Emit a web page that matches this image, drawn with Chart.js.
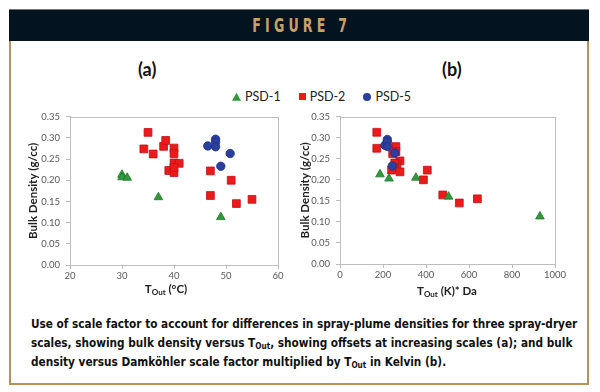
<!DOCTYPE html>
<html>
<head>
<meta charset="utf-8">
<script src="https://cdn.jsdelivr.net/npm/chart.js@4/dist/chart.umd.min.js"></script>
<style>
  html, body { margin: 0; padding: 0; background: #fff; }
  body { width: 600px; height: 392px; position: relative; overflow: hidden; font-family: Lato, "Open Sans", sans-serif; }
  #frame { position: absolute; left: 9px; top: 11px; width: 576px; height: 372px; border: 2px solid #b8905a; border-top: none; }
  #head { position: absolute; left: 9px; top: 9px; width: 580px; height: 31px; background: #03131f; border-top: 1px solid #777;
          text-align: center; line-height: 31px; }
  #head span { display: inline-block; color: #c9a166; font: bold 20px "DejaVu Sans Condensed", "DejaVu Sans", sans-serif;
               letter-spacing: 6px; transform: scaleX(0.7); margin-left: 6px; }
  .ptitle { position: absolute; top: 58px; font: bold 18px Lato, sans-serif; color: #111; }
  #legend { position: absolute; top: 89px; left: 232px; font: 12.5px Lato, sans-serif; color: #222; white-space: nowrap; }
  #legend span.item { display: inline-block; margin-right: 18px; }
  #legend i { display: inline-block; vertical-align: middle; margin-right: 4px; position: relative; top: -1px; }
  .wrap { position: absolute; }
  .xt { position: absolute; font: bold 11.5px Lato, sans-serif; color: #222; white-space: nowrap; transform: translateX(-50%); }
  .xt sub { font-size: 8px; vertical-align: -2px; }
  #cap { position: absolute; left: 31px; top: 314px; width: 610px; font: bold 13px "DejaVu Sans Condensed", sans-serif;
         line-height: 19px; color: #111; transform: scaleX(0.9); transform-origin: 0 0; }
  #cap sub { font-size: 9px; vertical-align: -2px; line-height: 0; }
</style>
</head>
<body>
<div id="frame"></div>
<div id="head"><span>FIGURE 7</span></div>
<div class="ptitle" style="left:138px">(a)</div>
<div class="ptitle" style="left:442px">(b)</div>
<div id="legend"></div>

<div class="wrap" style="left:10px;top:105px;width:280px;height:180px"><canvas id="chartA"></canvas></div>
<div class="wrap" style="left:290px;top:105px;width:290px;height:180px"><canvas id="chartB"></canvas></div>
<div class="xt" style="left:166px;top:282px">T<sub>Out</sub> (°C)</div>
<div class="xt" style="left:447px;top:284px">T<sub>Out</sub> (K)* Da</div>

<div id="cap">Use of scale factor to account for differences in spray-plume densities for three spray-dryer<br>scales, showing bulk density versus T<sub>Out</sub>, showing offsets at increasing scales (a); and bulk<br>density versus Damköhler scale factor multiplied by T<sub>Out</sub> in Kelvin (b).</div>

<script>
// series names / styles
const seriesNames = ['PSD-1', 'PSD-2', 'PSD-5'];
const seriesColors = ['#2e9a3a', '#ee1a1a', '#2b3f9e'];
const seriesBorders = ['#22772c', '#c01018', '#1e2f80'];
const seriesShapes = ['triangle', 'rect', 'circle'];
const seriesRadius = [5, 5.5, 4.2];

// (a) bulk density vs T_out (deg C)
const psd1A = [[30, 0.213], [30, 0.207], [31, 0.206], [37, 0.160], [49, 0.113]];
const psd2A = [[35, 0.313], [34.2, 0.274], [36, 0.262], [38, 0.280], [38.4, 0.294], [40, 0.276], [40, 0.263],
               [40, 0.241], [39, 0.223], [40, 0.218], [41, 0.240], [40, 0.230], [47, 0.222], [47, 0.164],
               [51, 0.200], [52, 0.145], [55, 0.155]];
const psd5A = [[46.5, 0.281], [48, 0.297], [48, 0.290], [48, 0.279], [50.8, 0.263], [49, 0.233]];

// (b) bulk density vs T_out(K) * Da
const psd1B = [[186, 0.213], [228, 0.203], [353, 0.205], [505, 0.160], [930, 0.113]];
const psd2B = [[171, 0.313], [171, 0.275], [260, 0.279], [260, 0.267], [245, 0.262], [279, 0.245], [265, 0.236],
               [255, 0.240], [250, 0.230], [240, 0.223], [279, 0.219], [406, 0.223], [388, 0.200],
               [478, 0.164], [555, 0.145], [639, 0.155]];
const psd5B = [[209, 0.282], [220, 0.296], [220, 0.290], [222, 0.279], [255, 0.264], [243, 0.233]];

// axes
const yMin = 0, yMax = 0.35, yStep = 0.05;
const xRangeA = [20, 60, 10];
const xRangeB = [0, 1000, 200];
const yTitle = 'Bulk Density (g/cc)';

// legend (html)
const legend = document.getElementById('legend');
seriesNames.forEach((n, i) => {
    const s = document.createElement('span');
    s.className = 'item';
    const m = document.createElement('i');
    if (seriesShapes[i] === 'triangle') {
        m.style.cssText = 'width:9px;height:8px;clip-path:polygon(50% 0,100% 100%,0 100%);background:' + seriesColors[i];
    } else if (seriesShapes[i] === 'rect') {
        m.style.cssText = 'width:7px;height:7px;background:' + seriesColors[i];
    } else {
        m.style.cssText = 'width:8px;height:8px;border-radius:50%;background:' + seriesColors[i];
    }
    s.appendChild(m);
    s.appendChild(document.createTextNode(n));
    legend.appendChild(s);
});

function toPts(arr) { return arr.map(p => ({x: p[0], y: p[1]})); }

// plot frame on all four sides (excel style)
const boxPlugin = {
    id: 'box',
    afterDatasetsDraw(chart) {
        const a = chart.chartArea, ctx = chart.ctx;
        ctx.save();
        ctx.strokeStyle = '#bdbdbd';
        ctx.lineWidth = 1;
        ctx.strokeRect(Math.round(a.left) + 0.5, Math.round(a.top) + 0.5, Math.round(a.right - a.left), Math.round(a.bottom - a.top));
        ctx.restore();
    }
};

function makeChart(id, sets, xr, pad, yw, xh) {
    const datasets = sets.map((d, i) => ({
        label: seriesNames[i],
        data: toPts(d),
        pointStyle: seriesShapes[i],
        pointRadius: seriesRadius[i],
        pointHoverRadius: seriesRadius[i],
        backgroundColor: seriesColors[i],
        borderColor: seriesBorders[i],
        borderWidth: 0.8,
        order: [2, 3, 1][i]
    }));
    return new Chart(document.getElementById(id), {
        type: 'scatter',
        data: { datasets },
        options: {
            responsive: true,
            maintainAspectRatio: false,
            animation: false,
            layout: { padding: pad },
            plugins: { legend: { display: false }, tooltip: { enabled: false } },
            scales: {
                x: {
                    type: 'linear', min: xr[0], max: xr[1],
                    ticks: { stepSize: xr[2], color: '#595959', font: { family: 'Lato', size: 9.5 }, padding: 1, maxRotation: 0,
                             callback: v => String(v) },
                    grid: { drawOnChartArea: false, tickLength: 4, color: '#bdbdbd' },
                    border: { color: '#bdbdbd' },
                    afterFit(s) { s.height = xh; }
                },
                y: {
                    min: yMin, max: yMax,
                    ticks: { stepSize: yStep, color: '#595959', font: { family: 'Lato', size: 9.5 }, padding: 6,
                             callback: v => v.toFixed(2) },
                    grid: { drawOnChartArea: false, tickLength: 4, color: '#bdbdbd' },
                    border: { color: '#bdbdbd' },
                    title: { display: true, text: yTitle, color: '#222', font: { family: 'Lato', size: 11.5, weight: 'bold' } },
                    afterFit(s) { s.width = yw; }
                }
            }
        },
        plugins: [boxPlugin]
    });
}

makeChart('chartA', [psd1A, psd2A, psd5A], xRangeA, { left: 12, top: 9.5, right: 12, bottom: 0 }, 48, 20);
makeChart('chartB', [psd1B, psd2B, psd5B], xRangeB, { left: 4, top: 9, right: 25, bottom: 0 }, 46, 21);
</script>
</body>
</html>
